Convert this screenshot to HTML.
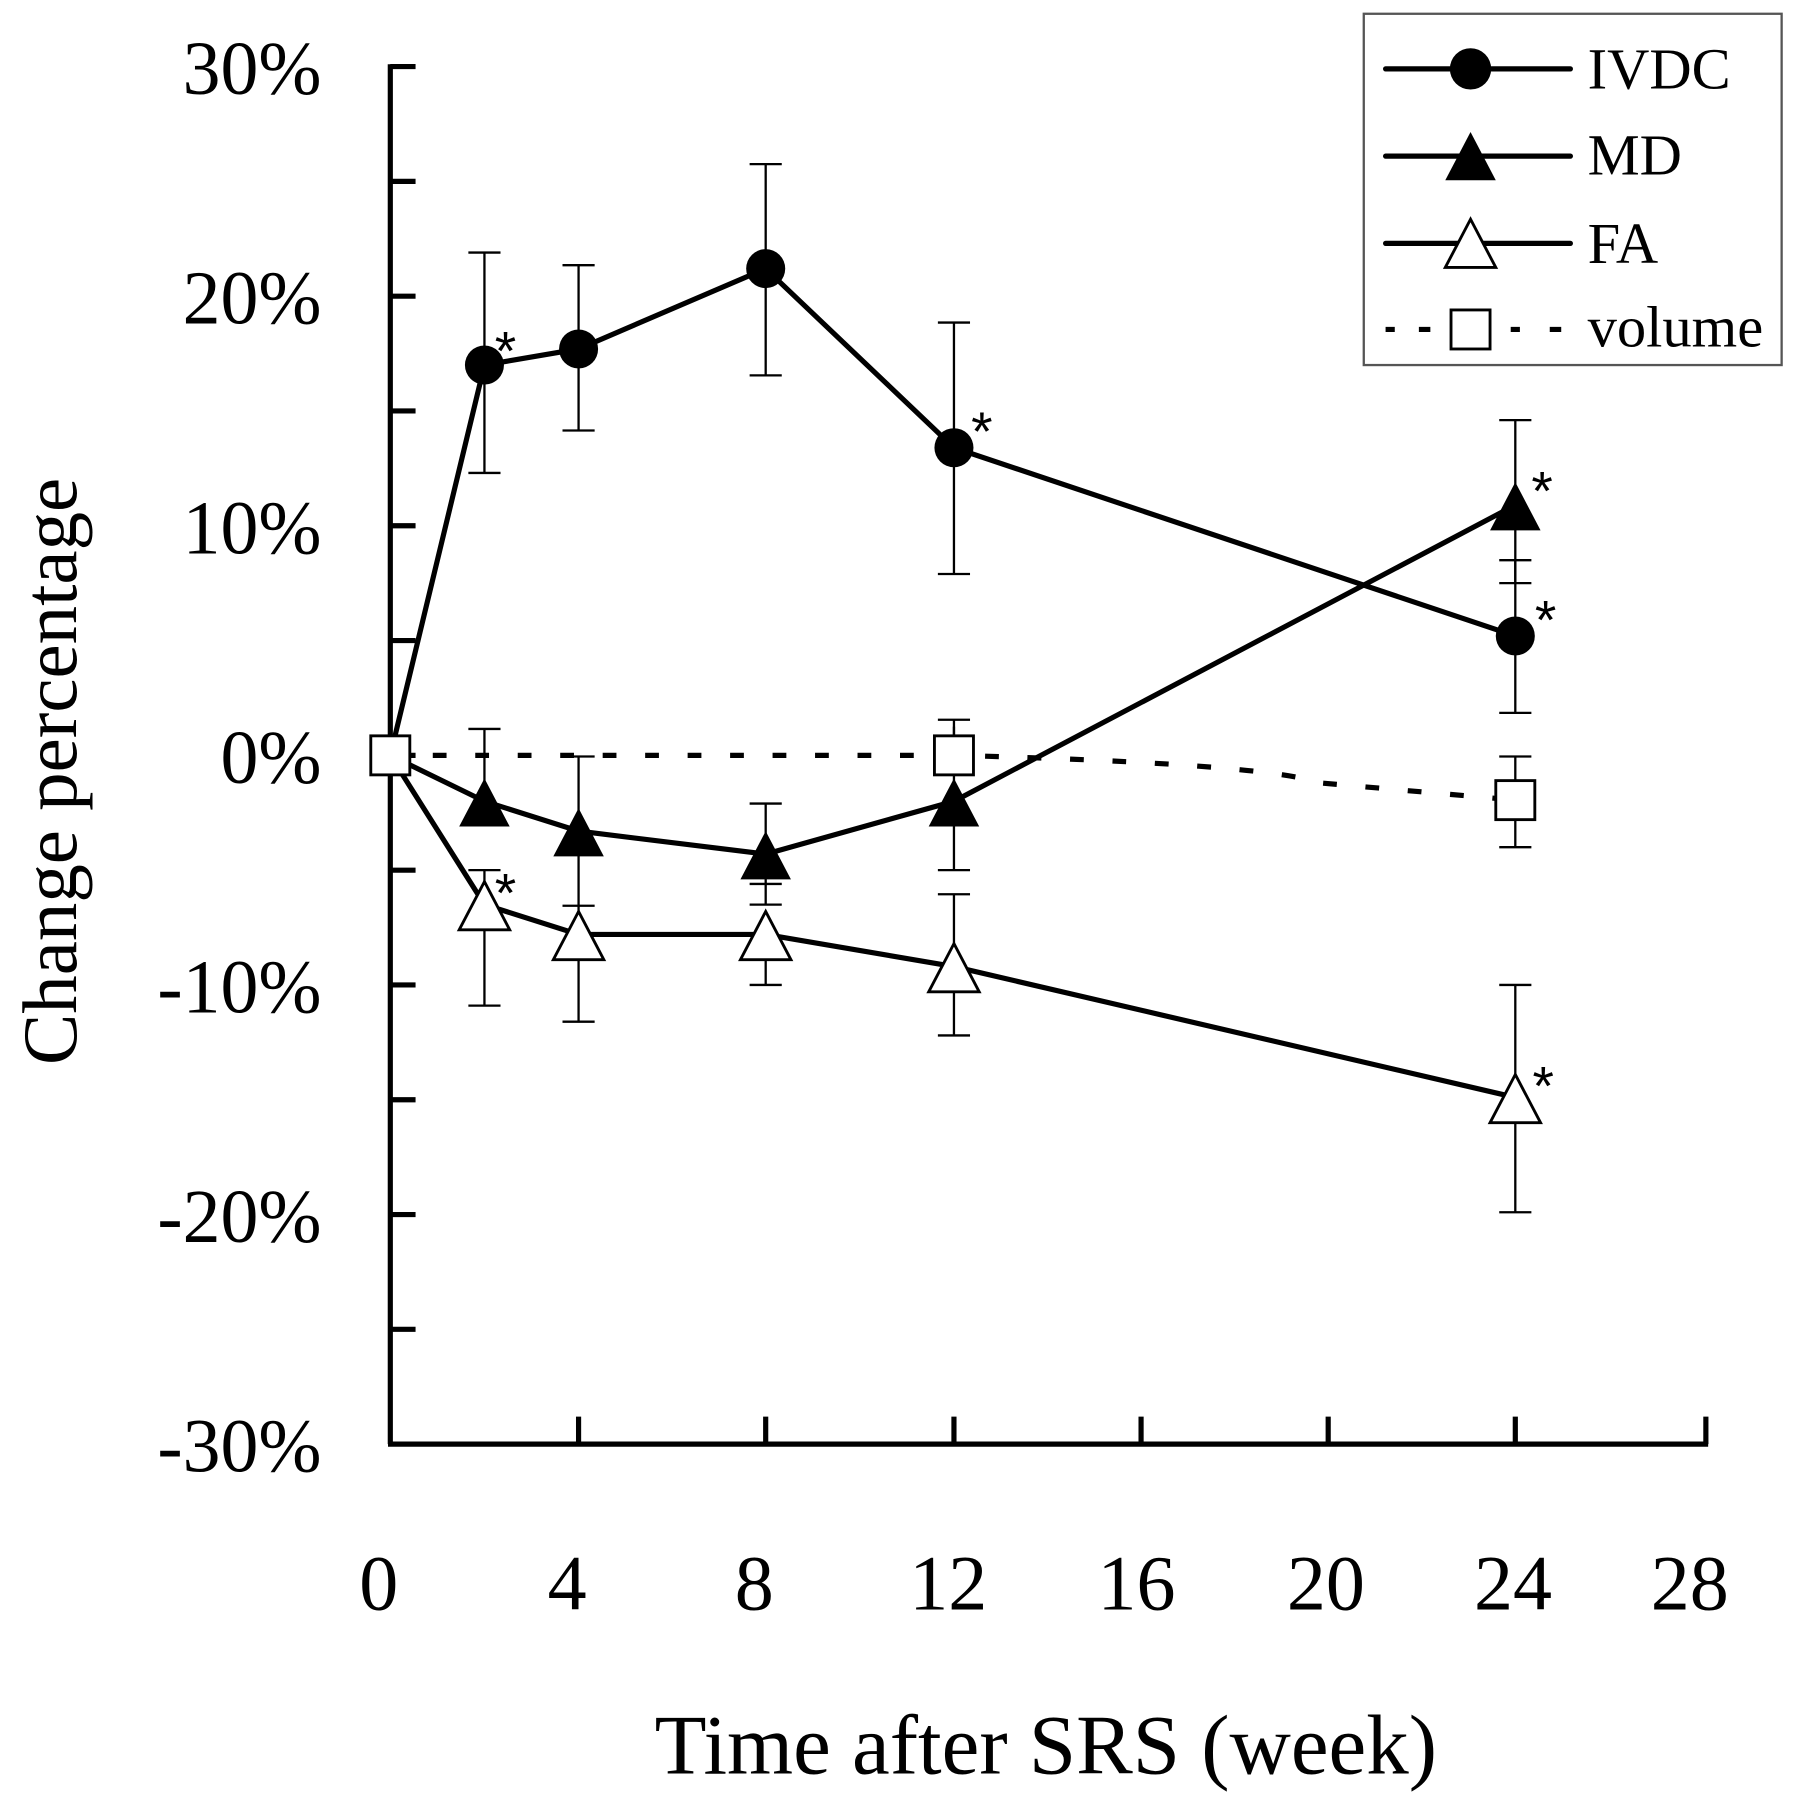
<!DOCTYPE html>
<html><head><style>html,body{margin:0;padding:0;background:#fff}svg{display:block}</style></head>
<body>
<svg width="1800" height="1800" viewBox="0 0 1568 1568" xmlns="http://www.w3.org/2000/svg" font-family="Liberation Serif, serif">
<rect width="1568" height="1568" fill="#fff"/>
<g stroke="#000" stroke-width="4.5" fill="none">
<line x1="340" y1="56" x2="340" y2="1258"/>
<line x1="338" y1="1258" x2="1488" y2="1258"/>
<path d="M340 58h22M340 158h22M340 258h22M340 358h22M340 458h22M340 558h22M340 658h22M340 758h22M340 858h22M340 958h22M340 1058h22M340 1158h22"/>
<path d="M504 1258v-24M667 1258v-24M831 1258v-24M994 1258v-24M1157 1258v-24M1320 1258v-24M1486 1258v-24"/>
</g>
<g font-size="66" text-anchor="end">
<text x="280" y="82">30%</text><text x="280" y="282">20%</text><text x="280" y="482">10%</text><text x="280" y="682">0%</text><text x="280" y="882">-10%</text><text x="280" y="1082">-20%</text><text x="280" y="1282">-30%</text>
</g>
<g font-size="68" text-anchor="middle">
<text x="330" y="1402">0</text><text x="494" y="1402">4</text><text x="657" y="1402">8</text><text x="826" y="1402">12</text><text x="990" y="1402">16</text><text x="1155" y="1402">20</text><text x="1318" y="1402">24</text><text x="1472" y="1402">28</text>
</g>
<text x="911" y="1545" font-size="74" text-anchor="middle">Time after SRS (week)</text>
<text transform="translate(66,672) rotate(-90)" font-size="67" text-anchor="middle">Change percentage</text>
<!-- error bars -->
<g stroke="#000" stroke-width="2" fill="none">
<path d="M422 220V412M408 220h28M408 412h28"/>
<path d="M504 231V375M490 231h28M490 375h28"/>
<path d="M667 143V327M653 143h28M653 327h28"/>
<path d="M831 281V500M817 281h28M817 500h28"/>
<path d="M1320 488V621M1306 488h28M1306 621h28"/>
<path d="M422 635V698M408 635h28"/>
<path d="M504 659V789M490 659h28M490 789h28"/>
<path d="M667 700V788M653 700h28M653 770h28M653 788h28"/>
<path d="M831 627V758M817 627h28M817 758h28"/>
<path d="M1320 366V508M1306 366h28M1306 508h28"/>
<path d="M422 758V876M408 758h28M408 876h28"/>
<path d="M504 789V890M490 890h28"/>
<path d="M667 814V858M653 858h28"/>
<path d="M831 779V902M817 779h28M817 902h28"/>
<path d="M1320 858V1056M1306 858h28M1306 1056h28"/>
<path d="M831 633V660M1320 659V738M1306 659h28M1306 738h28"/>
</g>
<!-- lines -->
<g stroke="#000" stroke-width="4.5" fill="none">
<polyline points="340,658 422,318 504,304 667,234 831,390 1320,554"/>
<polyline points="340,658 422,698 504,724 667,744 831,698 1320,440"/>
<polyline points="340,658 422,788 504,814 667,814 831,842 1320,956"/>
<path d="M340 658L831 658 Q1100 665 1150 682 L1320 697" stroke-dasharray="12,25"/>
</g>
<!-- markers -->
<g fill="#000">
<circle cx="422" cy="318" r="17"/><circle cx="504" cy="304" r="17"/><circle cx="667" cy="234" r="17"/><circle cx="831" cy="390" r="17"/><circle cx="1320" cy="554" r="17"/>
<path d="M422 678l-22 42h44zM504 704l-22 42h44zM667 724l-22 42h44zM831 678l-22 42h44zM1320 420l-22 42h44z"/>
</g>
<g fill="#fff" stroke="#000" stroke-width="2.5">
<path d="M422 768l-22 42h44zM504 794l-22 42h44zM667 794l-22 42h44zM831 822l-22 42h44zM1320 936l-22 42h44z"/>
<rect x="323" y="641" width="34" height="34"/><rect x="814" y="641" width="34" height="34"/><rect x="1303" y="680" width="34" height="34"/>
</g>
<g font-size="48" font-family="Liberation Sans, sans-serif">
<text x="431" y="322">*</text><text x="846" y="392">*</text><text x="1334" y="444">*</text><text x="1337" y="556">*</text><text x="431" y="794">*</text><text x="1335" y="962">*</text>
</g>
<!-- legend -->
<rect x="1188" y="12" width="364" height="306" fill="#fff" stroke="#555" stroke-width="2"/>
<g stroke="#000" stroke-width="4.5" stroke-linecap="round">
<line x1="1207" y1="60" x2="1368" y2="60"/>
<line x1="1207" y1="136" x2="1368" y2="136"/>
<line x1="1207" y1="212" x2="1368" y2="212"/>
<path d="M1207 287h8M1236 287h10M1316 287h8M1350 287h10" stroke-linecap="butt"/>
</g>
<circle cx="1281" cy="60" r="18" fill="#000"/>
<path d="M1281 115l-22 42h44z" fill="#000"/>
<path d="M1281 191l-22 42h44z" fill="#fff" stroke="#000" stroke-width="2.5"/>
<rect x="1264" y="270" width="34" height="34" fill="#fff" stroke="#000" stroke-width="2.5"/>
<g font-size="51">
<text x="1383" y="77">IVDC</text><text x="1383" y="152">MD</text><text x="1383" y="229">FA</text><text x="1383" y="302">volume</text>
</g>
</svg>
</body></html>
